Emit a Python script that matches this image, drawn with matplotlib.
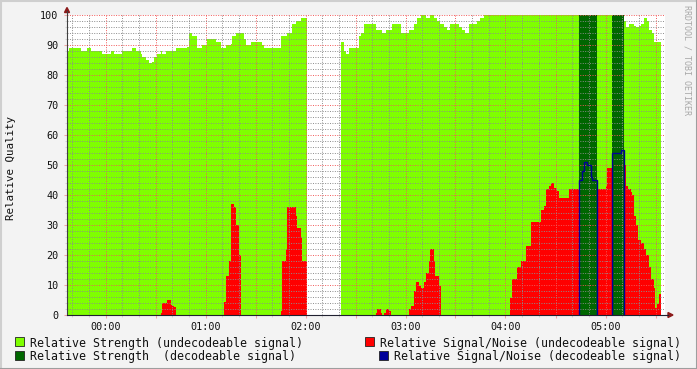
import numpy as np
import matplotlib
matplotlib.use('Agg')
import matplotlib.pyplot as plt
from matplotlib.patches import Polygon, Rectangle
from matplotlib.lines import Line2D

nan = np.nan

# time in minutes after 00:00; each value holds until the next break
T_END = 333.5

strength_steps = [
    (-23, 88), (-22, 89), (-15, 88), (-11, 89), (-9, 88), (-2, 87), (3, 88), (5, 87),
    (10, 88), (16, 89), (18, 88), (21, 87), (22, 86), (24, 85), (26, 84), (28, 84.5),
    (29, 86), (31, 87), (33, 88), (34, 87), (36, 88), (42, 89), (49, 89.5), (50, 94),
    (52, 93), (55, 89), (58, 90), (61, 92), (66, 91), (69, 89), (72, 90), (75, 90.5),
    (76, 93), (78, 94), (83, 92), (84, 90), (87, 91), (94, 90), (95, 89), (105, 93),
    (109, 94), (112, 97), (114, 98), (117, 99), (121, nan), (141, 91), (143, 88),
    (144, 87), (146, 89), (152, 93), (153, 94), (155, 97), (162, 95), (166, 94),
    (168, 95), (172, 97), (177, 94), (182, 95), (185, 97), (187, 99), (189, 100),
    (192, 99), (195, 100), (197, 99), (199, 98), (201, 97), (203, 96), (205, 95),
    (207, 97), (212, 96), (214, 95), (216, 94), (218, 97), (223, 98), (225, 99),
    (227, 100), (311, 98), (312, 96), (314, 97), (317, 96.5), (318, 96), (320, 96.5),
    (321, 97), (323, 99), (325, 98), (326, 95), (328, 94), (329, 91),
]

strength_dec_steps = [(284, 100), (295, nan), (304, 100), (311, nan)]

snr_steps = [
    (-23, 0), (33, 0.7), (34, 4), (37, 5), (39, 3.5), (40, 3), (41, 2.7), (42, 0),
    (71, 4.3), (72, 13), (74, 18), (75, 37), (77, 36), (78, 30), (80, 20), (81.3, 0),
    (105, 1.3), (106, 18), (108, 22), (109, 36), (114, 33), (115, 29), (117, 26),
    (118, 18), (121, nan), (141, 0), (162, 0.7), (163, 2), (165, 0.7), (166, 0),
    (167, 0.7), (168, 2), (170, 1.3), (171, 0), (182, 2), (183, 3), (185, 8), (186, 11),
    (188, 9.7), (189, 9), (191, 11), (192, 14), (194, 18), (195, 22), (197, 18),
    (198, 13), (200, 9.7), (201.3, 0), (243, 5.7), (244, 12), (247, 16), (249, 18),
    (252, 23), (255, 31), (261, 35), (263, 36.3), (264, 42), (266, 43), (267, 44),
    (269, 42.3), (271, 41.3), (272, 39), (278, 42), (284, nan), (295, 42), (300, 43),
    (301, 49), (304, nan), (311, 50), (312, 43), (313.5, 42), (315, 41), (316, 40),
    (317, 33), (318, 30), (319.5, 25), (321, 24), (323, 22), (324, 20), (326, 16),
    (327.5, 12), (329, 9), (329.5, 2.5), (331, 3.7), (332, 7),
]

snr_dec_steps = [
    (284, 45), (286, 48), (287, 51), (289, 50), (291, 46), (292, 45), (295, nan),
    (304, 54), (309, 55), (311, nan),
]

legend_labels = [
    "Relative Strength (undecodeable signal)",
    "Relative Signal/Noise (undecodeable signal)",
    "Relative Strength  (decodeable signal)",
    "Relative Signal/Noise (decodeable signal)",
]

LIGHT_GREEN = '#7FFF00'
DARK_GREEN = '#006600'
RED = '#FF0000'
BLUE = '#000099'
BG = '#F3F3F3'

plt.rcParams['font.family'] = ['DejaVu Sans Mono']

W, H = 697, 369


def fx(x):
    return x / W


def fy(y):
    return 1 - y / H


def stairs_from(steps):
    t, v = zip(*steps)
    edges = list(t) + [T_END]
    return np.array(v, dtype=float), np.array(edges, dtype=float)


fig = plt.figure(figsize=(W / 100, H / 100), dpi=100, facecolor=BG)
ax = fig.add_axes([fx(67), fy(315), (665 - 67) / W, 300 / H])
ax.set_facecolor('white')

v, e = stairs_from(strength_steps)
ax.stairs(v, e, fill=True, baseline=0, color=LIGHT_GREEN, zorder=1)
v, e = stairs_from(snr_steps)
ax.stairs(v, e, fill=True, baseline=0, color=RED, zorder=1.1)
v, e = stairs_from(strength_dec_steps)
ax.stairs(v, e, fill=True, baseline=0, color=DARK_GREEN, zorder=1.2)
v, e = stairs_from(snr_dec_steps)
ax.stairs(v, e, fill=False, baseline=0, color=BLUE, linewidth=1.0, zorder=3)

ax.set_xlim(-23.1, 335.7)
ax.set_ylim(0, 100)

major_x = np.arange(0, 331, 30)
ax.set_xticks(major_x)
ax.set_xticklabels(['%02d:00' % (m // 60) if m % 60 == 0 else '' for m in major_x])
ax.set_xticks(np.arange(-20, 336, 10), minor=True)
ax.set_yticks(np.arange(0, 101, 10))
ax.set_yticks(np.arange(0, 101, 2), minor=True)

major_c = (0.95, 0.35, 0.35, 0.5)
minor_c = (0.55, 0.55, 0.55, 0.3)
ax.set_axisbelow(False)
ax.grid(which='major', color=major_c, linestyle=(0, (1, 1.5)), linewidth=0.7)
ax.grid(which='minor', color=minor_c, linestyle=(0, (1, 1.5)), linewidth=0.7)
ax.tick_params(which='major', length=2.5, width=0.75, color=major_c,
               labelsize=7.3, labelcolor='#111111', pad=2.5)
ax.tick_params(which='minor', length=1.5, width=0.75, color=minor_c)
ax.tick_params(axis='y', which='major', pad=3.5)
for s in ax.spines.values():
    s.set_visible(False)

# axes with arrows
fig.add_artist(Line2D([fx(67), fx(67)], [fy(315), fy(11)], color='#404040', lw=0.8))
fig.add_artist(Line2D([fx(67), fx(668)], [fy(315), fy(315)], color='#202030', lw=0.8))
fig.add_artist(Polygon([[fx(64.5), fy(12.5)], [fx(69.5), fy(12.5)], [fx(67), fy(7.5)]],
                       closed=True, color='#8B1A1A', transform=fig.transFigure))
fig.add_artist(Polygon([[fx(668), fy(312.5)], [fx(668), fy(317.5)], [fx(673), fy(315)]],
                       closed=True, color='#8B1A1A', transform=fig.transFigure))

fig.text(fx(11), fy(168), 'Relative Quality', rotation=90, ha='center', va='center',
         fontsize=7.8, color='#111111')
fig.text(fx(687), fy(5), 'RRDTOOL / TOBI OETIKER', rotation=-90, ha='center', va='top',
         fontsize=6.0, color='#A8A8A8')

# legend
legend_pos = [(15, 337, 30, 346.5, LIGHT_GREEN), (365, 337, 380, 346.5, RED),
              (15, 350.5, 30, 360, DARK_GREEN), (379, 350.5, 394, 360, BLUE)]
for label, (sx, sy, tx, ty, col) in zip(legend_labels, legend_pos):
    fig.add_artist(Rectangle((fx(sx), fy(sy + 9)), 9 / W, 9 / H, facecolor=col,
                             edgecolor='#222222', lw=0.6, transform=fig.transFigure))
    fig.text(fx(tx), fy(ty), label, ha='left', va='baseline', fontsize=8.33, color='#111111')

# frame
fig.add_artist(Line2D([0, 1], [fy(0.5), fy(0.5)], color='#CFCFCF', lw=1.5))
fig.add_artist(Line2D([fx(0.5), fx(0.5)], [0, 1], color='#CFCFCF', lw=1.5))
fig.add_artist(Line2D([0, 1], [fy(368.5), fy(368.5)], color='#9E9E9E', lw=1.5))
fig.add_artist(Line2D([fx(696.5), fx(696.5)], [0, 1], color='#9E9E9E', lw=1.5))

fig.savefig('out.png', dpi=100, facecolor=BG)
